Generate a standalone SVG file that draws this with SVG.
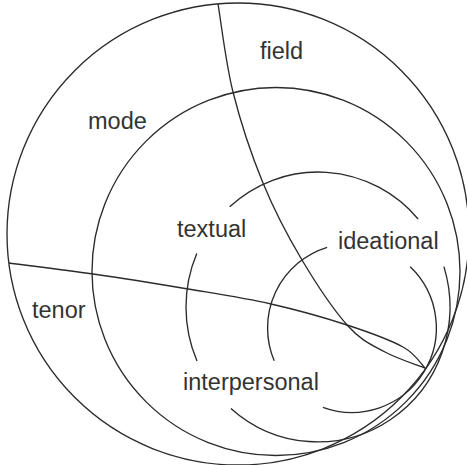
<svg xmlns="http://www.w3.org/2000/svg" width="467" height="465" viewBox="0 0 467 465">
<style>
.ln{fill:none;stroke:#2b2b2b;stroke-width:1.35}
.lbl{font-family:"Liberation Sans",Arial,sans-serif;font-size:23.5px;fill:#333}
</style>
<rect width="467" height="465" fill="#fff"/>
<g id="outer"><circle class="ln" cx="238" cy="234" r="231"/></g>
<g id="mode-circle"><circle class="ln" cx="276" cy="271.5" r="184"/></g>
<g id="textual-arcs">
<path class="ln" d="M229.7,206.7 A132,135 0 0 1 418.1,219"/>
<path class="ln" d="M196.8,253.4 A132,135 0 0 0 197,360.9"/>
<path class="ln" d="M443.9,266.6 A132,135 0 0 1 230.9,408.4"/>
</g>
<g id="ideational-arcs">
<path class="ln" d="M327.1,247.3 A84.5,84.5 0 0 0 274.2,360.8"/>
<path class="ln" d="M410.2,266.8 A84.5,84.5 0 0 1 322.9,407.3"/>
</g>
<g id="connectors">
<path id="field-line" class="ln" d="M218,4 C220.5,17.8 225.5,62 233,92 C240.5,122 251.5,155 263,183 C274.5,211 287.8,236.2 302,260 C316.2,283.8 334.2,310.7 348,326 C361.8,341.3 372.2,345 385,352 C397.8,359 418.3,365.3 425,368"/>
<path id="tenor-line" class="ln" d="M9,263 C22.2,264.8 63,269.7 93,274 C123,278.3 158.3,284 188,289 C217.7,294 244.5,298 271,304 C297.5,310 325,317.8 347,325 C369,332.2 390,339.8 403,347 C416,354.2 421.3,364.5 425,368"/>
</g>
<g id="field"><text class="lbl" x="260" y="59">field</text></g>
<g id="mode"><text class="lbl" x="88" y="129">mode</text></g>
<g id="textual"><text class="lbl" x="177" y="237">textual</text></g>
<g id="ideational"><text class="lbl" x="338" y="249">ideational</text></g>
<g id="tenor"><text class="lbl" x="32" y="318">tenor</text></g>
<g id="interpersonal"><text class="lbl" x="183" y="390">interpersonal</text></g>
</svg>
